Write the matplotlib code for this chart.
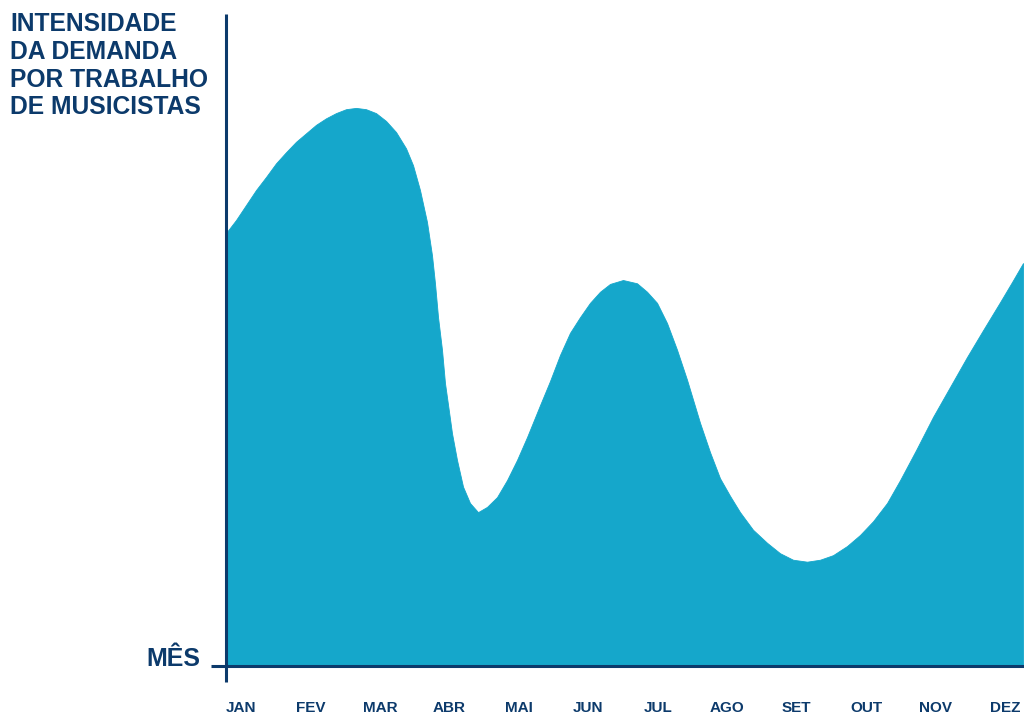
import matplotlib
matplotlib.use("Agg")
import matplotlib.pyplot as plt
from matplotlib.lines import Line2D

plt.rcParams["font.family"] = ["Liberation Sans", "DejaVu Sans"]

NAVY = "#0c3a6b"
FILL = "#15a7cb"

# month labels (positions are month index 0..11)
months = ["JAN", "FEV", "MAR", "ABR", "MAI", "JUN", "JUL", "AGO", "SET", "OUT", "NOV", "DEZ"]

# demand curve: x in month units, y intensity 0..100
curve_x = [-0.216, -0.072, 0.072, 0.216, 0.360, 0.504, 0.648, 0.792, 0.936, 1.080,
           1.224, 1.368, 1.512, 1.656, 1.800, 1.944, 2.088, 2.232, 2.376, 2.477,
           2.577, 2.678, 2.750, 2.793, 2.837, 2.894, 2.937, 2.995, 3.038, 3.110,
           3.197, 3.297, 3.413, 3.542, 3.686, 3.830, 3.974, 4.118, 4.305, 4.449,
           4.593, 4.737, 4.881, 5.025, 5.169, 5.313, 5.500, 5.702, 5.846, 5.990,
           6.134, 6.278, 6.422, 6.609, 6.753, 6.897, 7.041, 7.185, 7.372, 7.574,
           7.761, 7.948, 8.150, 8.337, 8.524, 8.726, 8.913, 9.100, 9.302, 9.489,
           9.719, 9.964, 10.209, 10.454, 10.684, 10.929, 11.102, 11.260]
curve_y = [66.4, 68.4, 70.7, 73.0, 75.0, 77.1, 78.8, 80.4, 81.7, 83.0,
           84.0, 84.8, 85.4, 85.6, 85.4, 84.8, 83.6, 81.9, 79.4, 76.8,
           73.0, 68.1, 63.0, 58.7, 53.5, 48.5, 43.4, 39.0, 35.7, 31.6,
           27.5, 25.0, 23.6, 24.4, 25.9, 28.5, 31.6, 35.1, 40.0, 43.7,
           47.7, 51.1, 53.5, 55.7, 57.4, 58.6, 59.2, 58.7, 57.4, 55.7,
           52.6, 48.5, 43.9, 37.3, 32.8, 28.8, 26.1, 23.6, 20.9, 18.9,
           17.3, 16.3, 16.0, 16.3, 17.0, 18.4, 20.1, 22.2, 25.0, 28.5,
           33.1, 38.2, 42.8, 47.4, 51.5, 55.8, 58.9, 61.8]

fig = plt.figure(figsize=(10.24, 7.13), dpi=100)
ax = fig.add_axes([226 / 1024, 47 / 713, 798 / 1024, 652 / 713])
ax.fill_between(curve_x, curve_y, 0, color=FILL, linewidth=0.6, edgecolor=FILL)
ax.set_xlim(-0.216, 11.274)
ax.set_ylim(0, 100)
ax.axis("off")

# axes lines, both poking a little past the corner
ax.add_line(Line2D([0, 0], [-16 / 652, 1], transform=ax.transAxes,
                   color=NAVY, lw=2.2, clip_on=False, solid_capstyle="butt"))
ax.add_line(Line2D([-15 / 798, 1], [0, 0], transform=ax.transAxes,
                   color=NAVY, lw=2.2, clip_on=False, solid_capstyle="butt"))

for i, m in enumerate(months):
    ax.text(i, -0.064, m, transform=ax.get_xaxis_transform(), ha="center", va="center",
            fontsize=11, fontweight="bold", color=NAVY)

fig.text(10 / 1024, 1 - 12 / 713, "INTENSIDADE\nDA DEMANDA\nPOR TRABALHO\nDE MUSICISTAS",
         ha="left", va="top", fontsize=17.7, fontweight="bold", color=NAVY, linespacing=1.2)
fig.text(200 / 1024, 1 - 666 / 713, "MÊS", ha="right", va="baseline",
         fontsize=18, fontweight="bold", color=NAVY)

fig.savefig("out.png", dpi=100, facecolor="white")
